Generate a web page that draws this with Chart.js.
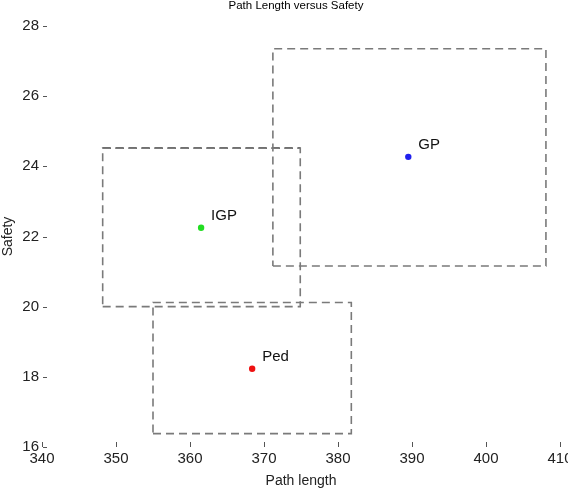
<!DOCTYPE html>
<html>
<head>
<meta charset="utf-8">
<script src="https://cdn.jsdelivr.net/npm/chart.js@4"></script>
<style>
  html, body { margin: 0; padding: 0; background: #fff; }
  #wrap { width: 568px; height: 494px; }
</style>
</head>
<body>
<div id="wrap"><canvas id="chart"></canvas></div>
<script>
// points
const names = ['GP', 'IGP', 'Ped'];
const pathLen = [389.5, 361.5, 368.4];
const safety = [24.27, 22.25, 18.23];
const colors = ['#2020ee', '#22dd22', '#ee1111'];

// dashed boxes around each point
const boxX0 = [371.2, 348.2, 355.0];
const boxX1 = [408.1, 374.9, 381.8];
const boxY0 = [21.16, 20.0, 16.38];
const boxY1 = [27.35, 24.52, 20.12];

const xTicks = [340, 350, 360, 370, 380, 390, 400, 410];
const yTicks = [16, 18, 20, 22, 24, 26, 28];

const font = 'Liberation Sans, Arial, sans-serif';
const titleText = 'Path Length versus Safety';

const datasets = [];
names.forEach((n, i) => {
    datasets.push({
        label: n + ' box',
        data: [
            {x: boxX0[i], y: boxY0[i]},
            {x: boxX1[i], y: boxY0[i]},
            {x: boxX1[i], y: boxY1[i]},
            {x: boxX0[i], y: boxY1[i]},
            {x: boxX0[i], y: boxY0[i]}
        ],
        showLine: true,
        borderColor: '#7a7a7a',
        borderWidth: 1.6,
        borderDash: [8, 5],
        pointRadius: 0,
        fill: false
    });
});
// top edge of the IGP box is drawn darker
datasets.push({
    label: 'IGP top',
    data: [{x: boxX0[1], y: boxY1[1]}, {x: boxX1[1], y: boxY1[1]}],
    showLine: true,
    borderColor: '#222',
    borderWidth: 1.8,
    borderDash: [8, 5],
    pointRadius: 0
});
names.forEach((n, i) => {
    datasets.push({
        label: n,
        data: [{x: pathLen[i], y: safety[i]}],
        pointRadius: 3.2,
        pointBackgroundColor: colors[i],
        pointBorderWidth: 0,
        showLine: false
    });
});

// inward tick marks, point labels, title
const extras = {
    id: 'extras',
    afterDatasetsDraw(chart) {
        const {ctx, chartArea, scales: {x, y}} = chart;
        ctx.save();
        ctx.strokeStyle = '#555';
        ctx.lineWidth = 1;
        x.ticks.forEach(t => {
            const px = Math.round(x.getPixelForValue(t.value)) + 0.5;
            ctx.beginPath();
            ctx.moveTo(px, chartArea.bottom - 5);
            ctx.lineTo(px, chartArea.bottom);
            ctx.stroke();
        });
        y.ticks.forEach(t => {
            const py = Math.round(y.getPixelForValue(t.value)) + 0.5;
            ctx.beginPath();
            ctx.moveTo(chartArea.left + 1, py);
            ctx.lineTo(chartArea.left + 5, py);
            ctx.stroke();
        });
        ctx.fillStyle = '#111';
        ctx.font = '15px ' + font;
        ctx.textBaseline = 'middle';
        names.forEach((n, i) => {
            const px = x.getPixelForValue(pathLen[i]);
            const py = y.getPixelForValue(safety[i]);
            ctx.fillText(n, px + 10, py - 12);
        });
        ctx.fillStyle = '#000';
        ctx.font = '11.5px ' + font;
        ctx.textAlign = 'center';
        ctx.fillText(titleText, (chartArea.left + chartArea.right) / 2 - 5, 6);
        ctx.restore();
    }
};

new Chart(document.getElementById('chart'), {
    type: 'scatter',
    data: {datasets},
    options: {
        responsive: true,
        maintainAspectRatio: false,
        animation: false,
        layout: { padding: { top: 26, right: 8, left: 0, bottom: 0 } },
        plugins: {
            legend: { display: false },
            tooltip: { enabled: false },
            title: { display: false }
        },
        scales: {
            x: {
                type: 'linear',
                min: 340, max: 410,
                afterBuildTicks: s => { s.ticks = xTicks.map(v => ({value: v})); },
                afterFit: s => { s.height = 47; s.paddingLeft = 0; s.paddingRight = 0; },
                grid: { display: false, drawTicks: false },
                border: { display: false },
                ticks: { color: '#222', padding: 2.4, maxRotation: 0, font: { size: 15, family: font } },
                title: { display: true, text: 'Path length', color: '#222',
                    font: { size: 14, family: font }, padding: { top: 0, bottom: 4.6 } }
            },
            y: {
                type: 'linear',
                min: 16, max: 28,
                afterBuildTicks: s => { s.ticks = yTicks.map(v => ({value: v})); },
                afterFit: s => { s.width = 42; s.paddingTop = 0; s.paddingBottom = 0; },
                grid: { display: false, drawTicks: false },
                border: { display: false },
                ticks: { color: '#222', padding: 3, font: { size: 15, family: font } },
                title: { display: true, text: 'Safety', color: '#222',
                    font: { size: 14, family: font }, padding: { top: 0, bottom: 0 } }
            }
        }
    },
    plugins: [extras]
});
</script>
</body>
</html>
